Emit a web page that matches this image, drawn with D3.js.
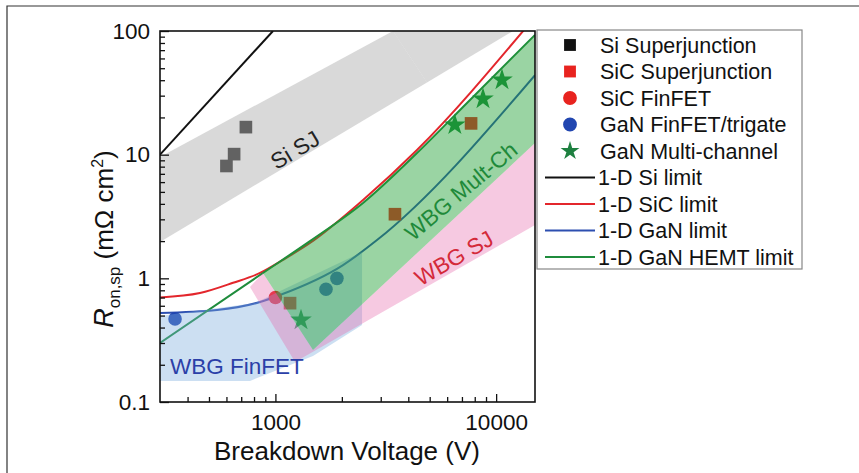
<!DOCTYPE html>
<html>
<head>
<meta charset="utf-8">
<script src="https://cdn.jsdelivr.net/npm/d3@7"></script>
<style>
body{margin:0;background:#fff}
svg{display:block;font-family:"Liberation Sans",Arial,Helvetica,sans-serif}
</style>
</head>
<body>
<svg id="chart" width="859" height="473"></svg>
<script>
'use strict'

// [breakdown voltage (V), Ron,sp (mOhm cm2)]
const siSJ = [[600, 8.1], [650, 10.1], [735, 16.7]]
const sicSJ = [[1165, 0.63], [3480, 3.3], [7700, 17.9]]
const sicFinFET = [[1000, 0.70]]
const ganFinFET = [[351, 0.47], [1695, 0.815], [1900, 1.0]]
const ganMultiCh = [[1306, 0.46], [6500, 17.4], [8720, 28.2], [10630, 40.2]]

const siLimit = [[300, 10], [975, 100]]
const sicLimit = [[300, 0.70], [455, 0.76], [643, 0.92], [852, 1.105], [1082, 1.41], [1434, 1.93], [2495, 4.3], [4380, 10.9], [13500, 104]]
const ganLimit = [[300, 0.525], [544, 0.555], [852, 0.644], [1049, 0.733], [2025, 1.28], [2886, 2.04], [15000, 44]]
const hemtLimit = [[300, 0.30], [878, 1.105], [1434, 2.0], [2495, 4.07], [4380, 10.3], [7380, 26.2], [15000, 93]]

// shaded regions
const siSJBand = [[300, 9.57], [3410, 100], [4860, 38.4], [300, 1.97]]
const siSJBand2 = [[3410, 100], [11930, 100], [4860, 38.4]]
const finfetRegion = [[300, 0.496], [808, 0.632], [2469, 1.63], [2469, 0.419], [1480, 0.236], [767, 0.148], [300, 0.148]]
const sjRegion = [[767, 0.851], [878, 1.105], [1480, 0.263], [15000, 12.4], [15000, 2.7], [1227, 0.211]]
const multiChRegion = [[878, 1.105], [1434, 2.0], [2495, 4.07], [4380, 10.3], [7380, 26.2], [15000, 92.8], [15000, 12.4], [1480, 0.263]]

const regionLabels = [
	{text: "Si SJ", v: 1227, r: 10.9, rot: -31, color: "#222", anchor: "middle"},
	{text: "WBG Mult-Ch", v: 6930, r: 5.08, rot: -40, color: "#1f8a3a", anchor: "middle"},
	{text: "WBG SJ", v: 6445, r: 1.46, rot: -30, color: "#d42a3a", anchor: "middle"},
	{text: "WBG FinFET", v: 333, r: 0.168, rot: 0, color: "#2b3fa8", anchor: "start"}
]

const xMajor = [1000, 10000]
const xMinor = [400, 500, 600, 700, 800, 900, 2000, 3000, 4000, 5000, 6000, 7000, 8000, 9000]
const yMajor = [0.1, 1, 10, 100]
const yMinor = [0.2, 0.3, 0.4, 0.5, 0.6, 0.7, 0.8, 0.9, 2, 3, 4, 5, 6, 7, 8, 9, 20, 30, 40, 50, 60, 70, 80, 90]

const legendNames = ["Si Superjunction", "SiC Superjunction", "SiC FinFET", "GaN FinFET/trigate", "GaN Multi-channel",
	"1-D Si limit", "1-D SiC limit", "1-D GaN limit", "1-D GaN HEMT limit"]

let svg = d3.select("#chart")
let x = d3.scaleLog().domain([300, 15000]).range([160, 535])
let y = d3.scaleLog().domain([0.1, 100]).range([402, 31])

// outer frame of the figure
svg.append("path").attr("d", "M7,473V6H859").attr("fill", "none").attr("stroke", "#333").attr("stroke-width", 1.2)

svg.append("clipPath").attr("id", "plotclip").append("rect")
	.attr("x", 160).attr("y", 31).attr("width", 375).attr("height", 371)

let plot = svg.append("g").attr("clip-path", "url(#plotclip)")

let line = d3.line().x(d => x(d[0])).y(d => y(d[1])).curve(d3.curveMonotoneX)
let poly = d3.line().x(d => x(d[0])).y(d => y(d[1])).curve(d3.curveLinearClosed)

// limit lines
function addLimit(data, color, straight){
	plot.append("path").datum(data)
		.attr("d", straight ? d3.line().x(d => x(d[0])).y(d => y(d[1])) : line)
		.attr("fill", "none").attr("stroke", color).attr("stroke-width", 2)
}
addLimit(siLimit, "#111", true)
addLimit(sicLimit, "#e3262c")
addLimit(ganLimit, "#2d4fb0")
addLimit(hemtLimit, "#1f8c3c")

// data markers
function addMarkers(data, type, size, color){
	plot.selectAll(null).data(data).enter().append("path")
		.attr("transform", d => "translate(" + x(d[0]) + "," + y(d[1]) + ")")
		.attr("d", d3.symbol().type(type).size(size))
		.attr("fill", color)
}
addMarkers(siSJ, d3.symbolSquare, 160, "#111")
addMarkers(sicSJ, d3.symbolSquare, 160, "#e8231f")
addMarkers(sicFinFET, d3.symbolCircle, 145, "#e8231f")
addMarkers(ganFinFET, d3.symbolCircle, 145, "#2146b0")
addMarkers(ganMultiCh, d3.symbolStar, 145, "#1b8a3c")

// translucent regions drawn over the marks
function addRegion(data, color, op){
	plot.append("path").datum(data).attr("d", poly).attr("fill", color).attr("fill-opacity", op)
}
addRegion(finfetRegion, "rgb(120,170,220)", 0.38)
addRegion(sjRegion, "rgb(230,100,170)", 0.35)
addRegion(multiChRegion, "rgb(30,160,50)", 0.45)
addRegion(siSJBand, "rgb(180,180,180)", 0.5)
addRegion(siSJBand2, "rgb(180,180,180)", 0.5)

regionLabels.forEach(function(l){
	plot.append("text")
		.attr("transform", "translate(" + x(l.v) + "," + y(l.r) + ") rotate(" + l.rot + ")")
		.attr("text-anchor", l.anchor)
		.attr("dy", l.anchor == "middle" ? "0.35em" : 0)
		.style("font-size", "22.5px")
		.attr("fill", l.color)
		.text(l.text)
})

// axes
svg.append("g").attr("transform", "translate(160,0)")
	.call(d3.axisLeft(y).tickValues(yMajor).tickSize(-9).tickPadding(10).tickFormat(d3.format("~g")))
svg.append("g").attr("transform", "translate(160,0)")
	.call(d3.axisLeft(y).tickValues(yMinor).tickSize(-5).tickFormat(""))
svg.append("g").attr("transform", "translate(0,402)")
	.call(d3.axisBottom(x).tickValues(xMajor).tickSize(-8).tickPadding(12).tickFormat(d3.format("d")))
svg.append("g").attr("transform", "translate(0,402)")
	.call(d3.axisBottom(x).tickValues(xMinor).tickSize(-5).tickFormat(""))
svg.selectAll(".domain").remove()
svg.selectAll(".tick line").attr("stroke", "#111").attr("stroke-width", 1.3)
svg.selectAll(".tick text").style("font-size", "22.5px").attr("fill", "#111").style("font-family", "inherit")

svg.append("rect").attr("x", 160).attr("y", 31).attr("width", 375).attr("height", 371)
	.attr("fill", "none").attr("stroke", "#111").attr("stroke-width", 1.6)

// axis titles
svg.append("text").attr("x", 347).attr("y", 460).attr("text-anchor", "middle")
	.style("font-size", "26px").attr("fill", "#111").text("Breakdown Voltage (V)")

let ylab = svg.append("text").attr("transform", "translate(113,239) rotate(-90)")
	.attr("text-anchor", "middle").style("font-size", "26px").attr("fill", "#111")
ylab.append("tspan").style("font-style", "italic").style("font-size", "27px").text("R")
ylab.append("tspan").attr("dy", 7).style("font-size", "17px").text("on,sp")
ylab.append("tspan").attr("dy", -7).text("\u00a0(m\u03a9 cm")
ylab.append("tspan").attr("dy", -10).style("font-size", "16px").text("2")
ylab.append("tspan").attr("dy", 10).text(")")

// legend
let legend = svg.append("g")
legend.append("rect").attr("x", 537).attr("y", 30).attr("width", 265).attr("height", 239)
	.attr("fill", "#fff").attr("stroke", "#888").attr("stroke-width", 1.2)

let legendSymbols = [
	{type: d3.symbolSquare, size: 140, color: "#111"},
	{type: d3.symbolSquare, size: 140, color: "#e8231f"},
	{type: d3.symbolCircle, size: 150, color: "#e8231f"},
	{type: d3.symbolCircle, size: 150, color: "#2146b0"},
	{type: d3.symbolStar, size: 110, color: "#1e8040"},
	{line: "#111"}, {line: "#e3262c"}, {line: "#2d4fb0"}, {line: "#1f8c3c"}
]

legendNames.forEach(function(name, i){
	let cy = 45 + i * 26.5
	let s = legendSymbols[i]
	if (s.line){
		legend.append("line").attr("x1", 545).attr("x2", 595).attr("y1", cy).attr("y2", cy)
			.attr("stroke", s.line).attr("stroke-width", 2)
	}
	else{
		legend.append("path").attr("transform", "translate(570," + cy + ")")
			.attr("d", d3.symbol().type(s.type).size(s.size)).attr("fill", s.color)
	}
	legend.append("text").attr("x", s.line ? 598 : 600).attr("y", cy).attr("dy", "0.36em")
		.style("font-size", "21.5px").attr("fill", "#111").text(name)
})
</script>
</body>
</html>
